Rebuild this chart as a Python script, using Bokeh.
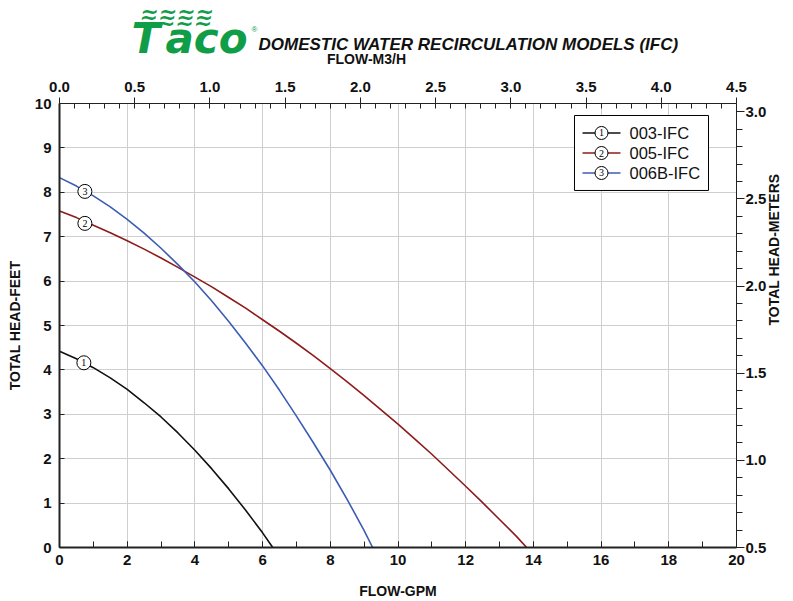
import math
from bokeh.plotting import figure
from bokeh.layouts import column
from bokeh.models import (Range1d, LinearAxis, SingleIntervalTicker, PrintfTickFormatter, Label)
from bokeh.core.properties import value
from bokeh.embed import file_html
from bokeh.resources import INLINE

# ---- data ----
gpm_003 = [0, 0.5, 1, 1.5, 2, 2.5, 3, 3.5, 4, 4.5, 5, 5.5, 6, 6.3]
ft_003 = [4.42, 4.25, 4.05, 3.82, 3.56, 3.26, 2.94, 2.58, 2.19, 1.77, 1.32, 0.84, 0.33, 0.0]

gpm_005 = [0, 0.5, 1, 1.5, 2, 2.5, 3, 3.5, 4, 4.5, 5, 5.5, 6, 6.5, 7, 7.5, 8, 8.5, 9, 9.5,
           10, 10.5, 11, 11.5, 12, 12.5, 13, 13.5, 13.8]
ft_005 = [7.58, 7.43, 7.26, 7.09, 6.91, 6.72, 6.52, 6.31, 6.09, 5.87, 5.63, 5.39, 5.13, 4.87,
          4.60, 4.32, 4.03, 3.73, 3.42, 3.10, 2.78, 2.44, 2.10, 1.74, 1.38, 1.01, 0.63, 0.25, 0.0]

gpm_006 = [0, 0.5, 1, 1.5, 2, 2.5, 3, 3.5, 4, 4.5, 5, 5.5, 6, 6.5, 7, 7.5, 8, 8.5, 9, 9.25]
ft_006 = [8.33, 8.14, 7.92, 7.67, 7.39, 7.08, 6.74, 6.37, 5.98, 5.55, 5.09, 4.60, 4.09, 3.54,
          2.96, 2.36, 1.74, 1.08, 0.38, 0.0]

series_names = ["003-IFC", "005-IFC", "006B-IFC"]
series_digits = ["1", "2", "3"]
series_colors = ["#111111", "#8e1b1b", "#3c5cb4"]
marker_gpm = [0.72, 0.75, 0.75]
marker_ft = [4.16, 7.30, 8.02]

gpm_ticks_interval = 2
ft_ticks_interval = 1
m3h_range = (0.0, 4.5)
m_range = (0.5, 3.048)

title_text = "DOMESTIC WATER RECIRCULATION MODELS (IFC)"
top_axis_title = "FLOW-M3/H"

FONT = "Liberation Sans"
GREEN = "#0f9d48"

# ---------------- header (logo + title) ----------------
# the column layout aligns this frame with the chart frame (59..736 px),
# so x is given in page pixels over that span; y runs downward in page pixels
h = figure(width=793, height=66, x_range=Range1d(59, 736), y_range=Range1d(66, 0),
           x_axis_type=None, y_axis_type=None, toolbar_location=None,
           output_backend="svg", min_border=0)
h.grid.visible = False
h.outline_line_color = None
h.background_fill_color = "white"
h.border_fill_color = "white"

for k in range(3):
    h.add_layout(Label(x=140 - k, y=11 + 6 * k, text="~~~~", text_font="DejaVu Sans",
                       text_font_style="bold", text_font_size="22px", text_color=GREEN,
                       text_baseline="middle", text_align="left"))
h.add_layout(Label(x=131, y=38, text="T", text_font="DejaVu Sans",
                   text_font_style="bold italic", text_font_size="42px",
                   text_color=GREEN, text_baseline="middle", text_align="left"))
h.add_layout(Label(x=165, y=38, text="aco", text_font="DejaVu Sans",
                   text_font_style="bold italic", text_font_size="42px",
                   text_color=GREEN, text_baseline="middle", text_align="left"))
h.add_layout(Label(x=251, y=29, text="\u00ae", text_font=FONT, text_font_size="8px",
                   text_color=GREEN, text_baseline="middle", text_align="left"))
h.add_layout(Label(x=258, y=44, text=title_text, text_font=FONT,
                   text_font_style="bold italic", text_font_size="17px",
                   text_color="#111111", text_baseline="middle", text_align="left"))
h.add_layout(Label(x=366, y=58, text=top_axis_title, text_font=FONT,
                   text_font_style="bold", text_font_size="14px", text_color="#111111",
                   text_baseline="middle", text_align="center"))

# ---------------- main chart ----------------
p = figure(width=793, height=535, x_range=Range1d(0, 20), y_range=Range1d(0, 10),
           output_backend="svg", toolbar_location=None,
           min_border_left=59, min_border_right=57, min_border_top=37, min_border_bottom=54)
p.outline_line_color = None
p.background_fill_color = "white"
p.border_fill_color = "white"

p.extra_x_ranges = {"m3h": Range1d(*m3h_range)}
p.extra_y_ranges = {"m": Range1d(*m_range)}

xt = SingleIntervalTicker(interval=gpm_ticks_interval, num_minor_ticks=2)
xa = p.xaxis[0]
xa.ticker = xt
xa.axis_label = "FLOW-GPM"
xa.major_tick_in = 6
xa.major_tick_out = 0
xa.minor_tick_in = 6
xa.minor_tick_out = 0
xa.axis_line_width = 2
xa.major_label_standoff = 7
xa.axis_label_standoff = 15

yt = SingleIntervalTicker(interval=ft_ticks_interval, num_minor_ticks=0)
ya = p.yaxis[0]
ya.ticker = yt
ya.axis_label = "TOTAL HEAD-FEET"
ya.major_tick_in = 5
ya.major_tick_out = 0
ya.minor_tick_in = 0
ya.minor_tick_out = 0
ya.axis_line_width = 2
ya.major_label_standoff = 8
ya.axis_label_standoff = 9

ta = LinearAxis(x_range_name="m3h",
                ticker=SingleIntervalTicker(interval=0.5, num_minor_ticks=5),
                formatter=PrintfTickFormatter(format="%.1f"))
ta.major_tick_out = 6
ta.major_tick_in = 0
ta.minor_tick_in = 5
ta.minor_tick_out = 0
ta.major_label_standoff = 6
p.add_layout(ta, "above")

ra = LinearAxis(y_range_name="m",
                ticker=SingleIntervalTicker(interval=0.5, num_minor_ticks=5),
                formatter=PrintfTickFormatter(format="%.1f"))
ra.axis_label = "TOTAL HEAD-METERS"
ra.axis_label_orientation = math.pi / 2
ra.major_tick_out = 8
ra.major_tick_in = 0
ra.minor_tick_out = 6
ra.minor_tick_in = 0
ra.major_label_standoff = 1
ra.axis_label_standoff = 5
p.add_layout(ra, "right")

for ax in [xa, ya, ta, ra]:
    ax.axis_line_color = "#222222"
    ax.major_tick_line_color = "#222222"
    ax.minor_tick_line_color = "#222222"
    ax.major_label_text_font = FONT
    ax.major_label_text_font_style = "bold"
    ax.major_label_text_font_size = "15px"
    ax.major_label_text_color = "#111111"
    ax.axis_label_text_font = FONT
    ax.axis_label_text_font_style = "bold"
    ax.axis_label_text_font_size = "14px"
    ax.axis_label_text_color = "#111111"

p.xgrid.ticker = xt
p.ygrid.ticker = yt
p.xgrid.grid_line_color = "#cfcfcf"
p.ygrid.grid_line_color = "#cfcfcf"

all_x = [gpm_003, gpm_005, gpm_006]
all_y = [ft_003, ft_005, ft_006]
for i in range(3):
    p.line(all_x[i], all_y[i], line_color=series_colors[i], line_width=1.6)
    p.scatter([marker_gpm[i]], [marker_ft[i]], marker="circle", size=14,
              fill_color="white", line_color="black", line_width=1)
    p.text([marker_gpm[i]], [marker_ft[i]], text=[series_digits[i]], text_align="center",
           text_baseline="middle", text_font=value("Liberation Serif"), text_font_size="10px",
           text_color="black")

# ---- legend box (top right), placed in data units of the chart ----
leg_rows = [9.336, 8.885, 8.435]
p.quad(left=15.214, right=19.173, top=9.730, bottom=8.041,
       fill_color="white", line_color="black", line_width=1)
p.segment(x0=[15.451] * 3, y0=leg_rows, x1=[16.573] * 3, y1=leg_rows,
          line_color=series_colors, line_width=1.6)
p.scatter([16.012] * 3, leg_rows, marker="circle", size=13,
          fill_color="white", line_color="black", line_width=1)
p.text([16.012] * 3, leg_rows, text=series_digits, text_align="center",
       text_baseline="middle", text_font=value("Liberation Serif"), text_font_size="10px",
       text_color="black")
p.text([16.839] * 3, leg_rows, text=series_names, text_align="left",
       text_baseline="middle", text_font=value(FONT), text_font_size="16.5px",
       text_color="#111111")

layout = column(h, p, spacing=0)
open("out.html", "w").write(file_html(layout, INLINE))
